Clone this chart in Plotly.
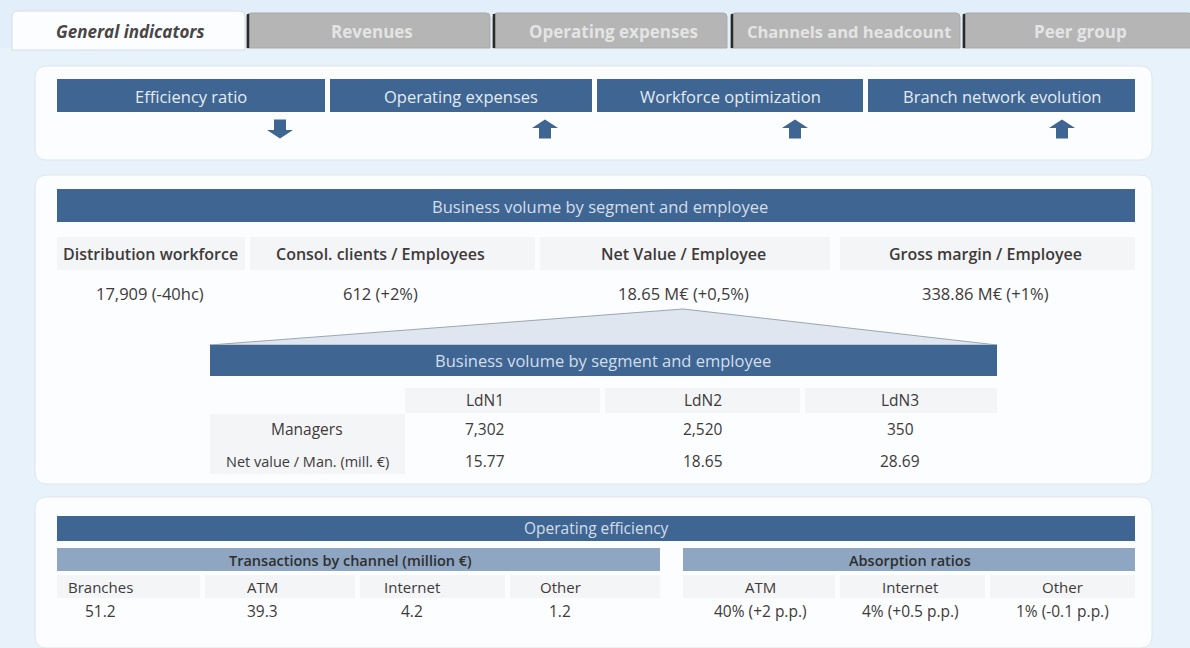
import plotly.graph_objects as go

# ---------------- data ----------------
tabs = ["General indicators", "Revenues", "Operating expenses", "Channels and headcount", "Peer group"]
indicators = ["Efficiency ratio", "Operating expenses", "Workforce optimization", "Branch network evolution"]
indicator_trend = ["down", "up", "up", "up"]
kpi_labels = ["Distribution workforce", "Consol. clients / Employees", "Net Value / Employee", "Gross margin / Employee"]
kpi_values = ["17,909 (-40hc)", "612 (+2%)", "18.65 M€ (+0,5%)", "338.86 M€ (+1%)"]
segments = ["LdN1", "LdN2", "LdN3"]
segment_rows = ["Managers", "Net value / Man. (mill. €)"]
managers = ["7,302", "2,520", "350"]
net_value_per_manager = ["15.77", "18.65", "28.69"]
channels = ["Branches", "ATM", "Internet", "Other"]
transactions = ["51.2", "39.3", "4.2", "1.2"]
absorption_channels = ["ATM", "Internet", "Other"]
absorption_ratios = ["40% (+2 p.p.)", "4% (+0.5 p.p.)", "1% (-0.1 p.p.)"]

# ---------------- style ----------------
W, H = 1190, 648
FONT = "Open Sans"
DARK = "#3e3a3a"
BLUE = "#3f6592"
LIGHTBLUE = "#8ea6c2"
BAR_TXT = "#d3deeb"
PAGE = "#e2effa"
CARD = "#fbfdfe"
CELL = "#f4f5f6"

shapes = []
ann = []


def rect(x0, y0, x1, y1, fill, line=None, lw=0):
    shapes.append(dict(type="rect", xref="x", yref="y", x0=x0, y0=y0, x1=x1, y1=y1,
                       fillcolor=fill, line=dict(color=line or fill, width=lw), layer="below"))


def rounded(x0, y0, x1, y1, r, fill, line, lw=1, top_only=False):
    if top_only:
        p = (f"M{x0},{y1} L{x0},{y0 + r} Q{x0},{y0} {x0 + r},{y0} L{x1 - r},{y0} "
             f"Q{x1},{y0} {x1},{y0 + r} L{x1},{y1} Z")
    else:
        p = (f"M{x0 + r},{y0} L{x1 - r},{y0} Q{x1},{y0} {x1},{y0 + r} L{x1},{y1 - r} "
             f"Q{x1},{y1} {x1 - r},{y1} L{x0 + r},{y1} Q{x0},{y1} {x0},{y1 - r} "
             f"L{x0},{y0 + r} Q{x0},{y0} {x0 + r},{y0} Z")
    shapes.append(dict(type="path", xref="x", yref="y", path=p, fillcolor=fill,
                       line=dict(color=line, width=lw), layer="below"))


def text(x, y, s, size=15, color=DARK, weight="normal", italic=False, anchor="center"):
    t = f"<i>{s}</i>" if italic else s
    ann.append(dict(x=x, y=y, xref="x", yref="y", text=t, showarrow=False,
                    xanchor=anchor, yanchor="middle",
                    font=dict(family=FONT, size=size, color=color, weight=weight)))


def arrow(cx, cy, direction, color=BLUE):
    hw, sw, h = 13, 6, 19  # head half-width, stem half-width, total height
    if direction == "down":
        top, mid, bot = cy - h / 2, cy + 1, cy + h / 2
        p = (f"M{cx - sw},{top} L{cx + sw},{top} L{cx + sw},{mid} L{cx + hw},{mid} "
             f"L{cx},{bot} L{cx - hw},{mid} L{cx - sw},{mid} Z")
    else:
        top, mid, bot = cy - h / 2, cy - 1, cy + h / 2
        p = (f"M{cx - sw},{bot} L{cx + sw},{bot} L{cx + sw},{mid} L{cx + hw},{mid} "
             f"L{cx},{top} L{cx - hw},{mid} L{cx - sw},{mid} Z")
    shapes.append(dict(type="path", xref="x", yref="y", path=p, fillcolor=color,
                       line=dict(color=color, width=0)))


# ---------------- page & tabs ----------------
rect(0, 0, W, H, PAGE)
rect(0, 48, W, H, "#e8f2fb")
tab_x = [(12, 245), (247, 490), (493, 727), (731, 960), (963, 1192)]
for i, (name, (x0, x1)) in enumerate(zip(tabs, tab_x)):
    if i == 0:
        rounded(x0, 11, x1, 50, 6, "#fbfdfe", "#d6dde3", 1, top_only=True)
        text(130, 31, name, size=17, color="#4a4646", weight="bold", italic=True)
    else:
        rounded(x0, 13, x1, 48, 4, "#b5b5b5", "#a9a9a9", 1, top_only=True)
        shapes.append(dict(type="line", xref="x", yref="y", x0=x0 + 1, y0=14, x1=x0 + 1, y1=48,
                           line=dict(color="#2a2a2a", width=2.5)))
        text((x0 + x1) / 2 + 3, 31, name, size=16.5 if i == 3 else 17, color="#e4e4e4", weight="bold")

# ---------------- card 1: indicators ----------------
rounded(35, 66, 1152, 160, 12, CARD, "#dfe6ec")
ind_x = [(57, 325), (330, 592), (597, 863), (868, 1135)]
arrow_x = [280, 545, 795, 1062]
for name, (x0, x1), ax, d in zip(indicators, ind_x, arrow_x, indicator_trend):
    rect(x0, 79, x1, 112, BLUE)
    text((x0 + x1) / 2, 96, name, size=16.5, color="#e4ebf3")
    arrow(ax, 129, d)

# ---------------- card 2: business volume ----------------
rounded(35, 175, 1152, 484, 12, CARD, "#dfe6ec")
rect(57, 189, 1135, 222, BLUE)
text(600, 206, "Business volume by segment and employee", size=16.5, color=BAR_TXT)
kpi_cells = [(57, 245), (250, 535), (540, 830), (840, 1135)]
kpi_cx = [150, 380, 683, 985]
for lab, val, (x0, x1), cx in zip(kpi_labels, kpi_values, kpi_cells, kpi_cx):
    rect(x0, 237, x1, 270, CELL)
    text(cx, 254, lab, size=16, color=DARK, weight=600)
    text(cx, 293, val, size=16.5, color=DARK)

# trapezoid fan from Net Value
shapes.append(dict(type="path", xref="x", yref="y",
                   path="M683,309 L210,345 L997,345 Z",
                   fillcolor="#dfe6ef", line=dict(color="#9aa6b4", width=1), layer="below"))
rect(210, 345, 997, 376, BLUE)
text(603, 360, "Business volume by segment and employee", size=16.5, color=BAR_TXT)
seg_cells = [(405, 600), (605, 800), (805, 997)]
seg_cx = [485, 703, 900]
rect(210, 414, 405, 474, CELL)
for s, (x0, x1), cx, m, nv in zip(segments, seg_cells, seg_cx, managers, net_value_per_manager):
    rect(x0, 388, x1, 413, CELL)
    text(cx, 400, s, size=15.5, color=DARK)
    text(cx, 429, m, size=15.5, color=DARK)
    text(cx, 461, nv, size=15.5, color=DARK)
text(307, 429, segment_rows[0], size=15.5, color=DARK)
text(307, 461, segment_rows[1], size=14.5, color=DARK)

# ---------------- card 3: operating efficiency ----------------
rounded(35, 497, 1152, 648, 12, CARD, "#dfe6ec")
rect(57, 516, 1135, 541, BLUE)
text(596, 528, "Operating efficiency", size=15.5, color=BAR_TXT)
rect(57, 548, 660, 571, LIGHTBLUE)
text(350, 560, "Transactions by channel (million €)", size=14.5, color="#2e2e2e", weight=600)
rect(683, 548, 1135, 571, LIGHTBLUE)
text(910, 560, "Absorption ratios", size=14.5, color="#2e2e2e", weight=600)
ch_cells = [(57, 200), (205, 355), (360, 505), (510, 660)]
ch_cx = [100, 262, 412, 560]
for c, v, (x0, x1), cx in zip(channels, transactions, ch_cells, ch_cx):
    rect(x0, 575, x1, 598, CELL)
    text(cx, 587, c, size=15, color=DARK)
    text(cx, 611, v, size=15.5, color=DARK)
ab_cells = [(683, 835), (840, 985), (990, 1135)]
ab_cx = [760, 910, 1062]
for c, v, (x0, x1), cx in zip(absorption_channels, absorption_ratios, ab_cells, ab_cx):
    rect(x0, 575, x1, 598, CELL)
    text(cx, 587, c, size=15, color=DARK)
    text(cx, 611, v, size=15.5, color=DARK)

fig = go.Figure()
fig.add_trace(go.Scatter(x=[0, W], y=[0, H], mode="markers", marker=dict(opacity=0),
                         hoverinfo="skip", showlegend=False))
fig.update_layout(
    width=W, height=H, margin=dict(l=0, r=0, t=0, b=0),
    paper_bgcolor=PAGE, plot_bgcolor=PAGE,
    xaxis=dict(range=[0, W], visible=False, fixedrange=True),
    yaxis=dict(range=[H, 0], visible=False, fixedrange=True),
    shapes=shapes, annotations=ann, showlegend=False,
)
fig.write_html("out.html", config={"displayModeBar": False},
               post_script="document.body.style.margin='0';")
